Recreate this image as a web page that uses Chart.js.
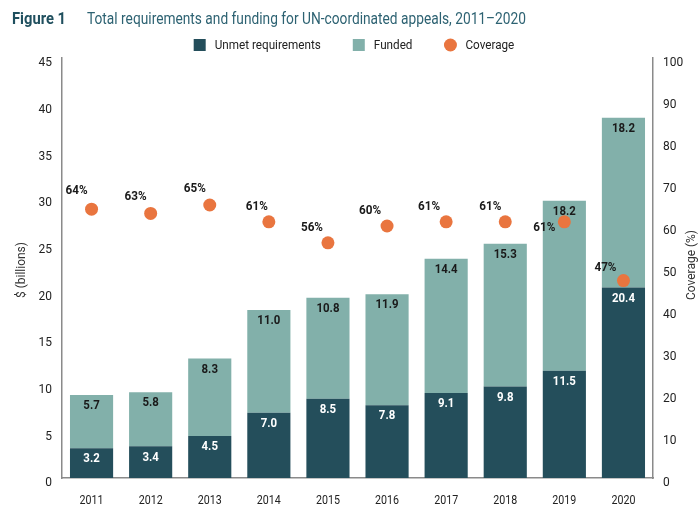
<!DOCTYPE html>
<html>
<head>
<meta charset="utf-8">
<script src="https://cdn.jsdelivr.net/npm/chart.js@4"></script>
<style>
  html, body { margin: 0; padding: 0; background: #ffffff; }
  #wrap { width: 700px; height: 509px; position: relative; }
</style>
</head>
<body>
<div id="wrap"><canvas id="c" width="700" height="509"></canvas></div>
<script>
const categories = ['2011', '2012', '2013', '2014', '2015', '2016', '2017', '2018', '2019', '2020'];
const unmetRequirements = [3.2, 3.4, 4.5, 7.0, 8.5, 7.8, 9.1, 9.8, 11.5, 20.4];
const fundedAmounts = [5.7, 5.8, 8.3, 11.0, 10.8, 11.9, 14.4, 15.3, 18.2, 18.2];
const coveragePct = [64, 63, 65, 61, 56, 60, 61, 61, 61, 47];
const leftTicks = [0, 5, 10, 15, 20, 25, 30, 35, 40, 45];
const rightTicks = [0, 10, 20, 30, 40, 50, 60, 70, 80, 90, 100];

const FONT = "Roboto, 'Liberation Sans', sans-serif";
const DARK = '#244e5b';
const LIGHT = '#82b0aa';
const ORANGE = '#e9753f';
const AXIS = '#8a8a8a';

// label offsets for coverage labels (styling)
const covLabelOffset = [[-15,-18],[-15,-17],[-15,-16],[-12,-15],[-16,-15],[-17,-15],[-17,-15],[-15,-15],[-20,6],[-18,-13]];

// draw text horizontally condensed by factor k
function txt(ctx, s, x, y, k, align) {
  ctx.save();
  ctx.translate(x, y);
  ctx.scale(k, 1);
  ctx.textAlign = align || 'center';
  ctx.fillText(s, 0, 0);
  ctx.restore();
}
function txtW(ctx, s, x, y, w) {
  const k = w / ctx.measureText(s).width;
  txt(ctx, s, x, y, k, 'left');
}

const overlay = {
  id: 'overlay',
  afterDraw(chart) {
    const ctx = chart.ctx;
    ctx.save();
    // Title
    ctx.textBaseline = 'alphabetic';
    ctx.fillStyle = '#1f4f5e';
    ctx.font = "bold 16px " + FONT;
    txtW(ctx, 'Figure 1', 12, 24, 54);
    ctx.fillStyle = '#2d6272';
    ctx.font = "16px " + FONT;
    txtW(ctx, 'Total requirements and funding for UN-coordinated appeals, 2011\u20132020', 87, 24, 439);

    // Legend
    const items = [
      {t: 'Unmet requirements', c: DARK, s: 'rect'},
      {t: 'Funded', c: LIGHT, s: 'rect'},
      {t: 'Coverage', c: ORANGE, s: 'circle'}
    ];
    const K = 0.9;
    ctx.font = "13px " + FONT;
    const box = 12, gap = 9, sep = 32;
    let total = 0;
    items.forEach((it, i) => { it.w = ctx.measureText(it.t).width * K; total += box + gap + it.w + (i ? sep : 0); });
    let x = 354 - total / 2;
    const ly = 45;
    ctx.textBaseline = 'middle';
    items.forEach((it, i) => {
      if (i) x += sep;
      ctx.fillStyle = it.c;
      if (it.s === 'rect') ctx.fillRect(x, ly - box / 2, box, box);
      else { ctx.beginPath(); ctx.arc(x + box / 2, ly, 6.5, 0, Math.PI * 2); ctx.fill(); }
      x += box + gap;
      ctx.fillStyle = '#222';
      txt(ctx, it.t, x, ly + 1, K, 'left');
      x += it.w;
    });

    // Axis titles
    ctx.fillStyle = '#333';
    ctx.font = "13px " + FONT;
    ctx.save();
    ctx.translate(22, 270);
    ctx.rotate(-Math.PI / 2);
    txt(ctx, '$ (billions)', 0, 0, 0.92);
    ctx.restore();
    ctx.save();
    ctx.translate(692, 265);
    ctx.rotate(-Math.PI / 2);
    txt(ctx, 'Coverage (%)', 0, 0, 0.92);
    ctx.restore();

    // Tick labels
    ctx.fillStyle = '#222';
    ctx.font = "13px " + FONT;
    const sy = chart.scales.y, sy1 = chart.scales.y1, sx = chart.scales.x;
    leftTicks.forEach(v => txt(ctx, String(v), sy.right - 10, sy.getPixelForValue(v) + 5, 0.92, 'right'));
    rightTicks.forEach(v => txt(ctx, String(v), sy1.left + 10, sy1.getPixelForValue(v) + 5, 0.92, 'left'));
    categories.forEach((c, i) => txt(ctx, c, sx.getPixelForValue(i), 501, 0.82, 'center'));

    // Bar labels
    ctx.font = "bold 13px " + FONT;
    const m0 = chart.getDatasetMeta(0), m1 = chart.getDatasetMeta(1), m2 = chart.getDatasetMeta(2);
    m0.data.forEach((el, i) => {
      ctx.fillStyle = '#ffffff';
      txt(ctx, unmetRequirements[i].toFixed(1), el.x, el.y + 11, 0.88);
    });
    m1.data.forEach((el, i) => {
      ctx.fillStyle = '#1a1a1a';
      txt(ctx, fundedAmounts[i].toFixed(1), el.x, el.y + 11, 0.88);
    });
    m2.data.forEach((el, i) => {
      const o = covLabelOffset[i];
      ctx.fillStyle = '#1a1a1a';
      txt(ctx, coveragePct[i] + '%', el.x + o[0], el.y + o[1], 0.9);
    });
    ctx.restore();
  }
};

new Chart(document.getElementById('c'), {
  data: {
    labels: categories,
    datasets: [
      { type: 'bar', label: 'Unmet requirements', data: unmetRequirements, backgroundColor: DARK, yAxisID: 'y', order: 1, barPercentage: 0.73, categoryPercentage: 1.0 },
      { type: 'bar', label: 'Funded', data: fundedAmounts, backgroundColor: LIGHT, yAxisID: 'y', order: 1, barPercentage: 0.73, categoryPercentage: 1.0 },
      { type: 'line', label: 'Coverage', data: coveragePct, yAxisID: 'y1', showLine: false, order: 0,
        pointRadius: 6.5, pointHoverRadius: 6.5, pointBackgroundColor: ORANGE, pointBorderWidth: 0, borderColor: ORANGE, backgroundColor: ORANGE }
    ]
  },
  options: {
    responsive: false,
    animation: false,
    events: [],
    layout: { padding: { top: 58, left: 0, right: 0, bottom: 0 } },
    plugins: { legend: { display: false }, title: { display: false }, tooltip: { enabled: false } },
    scales: {
      x: {
        stacked: true,
        grid: { display: false, drawTicks: false },
        border: { display: true, color: AXIS, width: 1.5 },
        ticks: { display: false },
        afterFit(s) { s.height = 31; }
      },
      y: {
        stacked: true,
        position: 'left',
        min: 0, max: 45,
        afterBuildTicks(s) { s.ticks = leftTicks.map(v => ({ value: v })); },
        grid: { display: false, drawTicks: false },
        border: { display: true, color: AXIS, width: 1.5 },
        ticks: { display: false },
        afterFit(s) { s.width = 62; }
      },
      y1: {
        position: 'right',
        min: 0, max: 100,
        afterBuildTicks(s) { s.ticks = rightTicks.map(v => ({ value: v })); },
        grid: { display: false, drawTicks: false },
        border: { display: true, color: AXIS, width: 1.5 },
        ticks: { display: false },
        afterFit(s) { s.width = 47; }
      }
    }
  },
  plugins: [overlay]
});
</script>
</body>
</html>
